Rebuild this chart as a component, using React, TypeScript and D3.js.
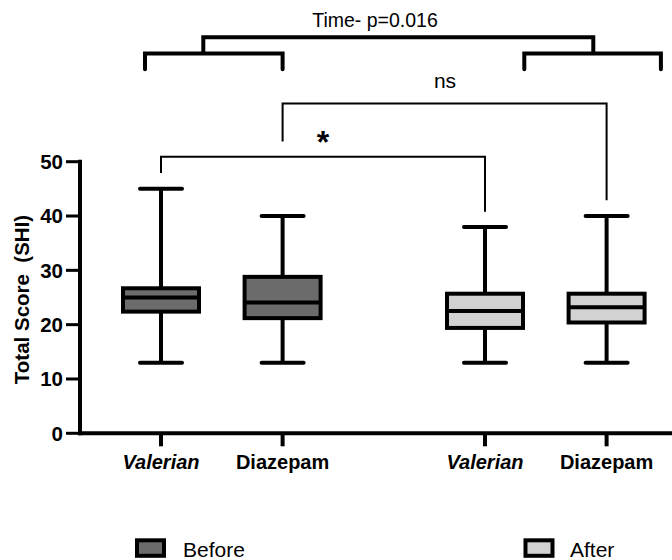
import React from "react";
import * as d3 from "d3";

const phases = ["Before", "After"];
const drugs = ["Valerian", "Diazepam"];
const phaseFill = ["#6b6b6b", "#d2d2d2"];
// [phase][drug] -> [min, q1, median, q3, max]
const statsBefore = [
  [13, 22.4, 25, 26.7, 45],
  [13, 21.2, 24.1, 28.8, 40],
];
const statsAfter = [
  [13, 19.4, 22.5, 25.7, 38],
  [13, 20.4, 23.2, 25.7, 40],
];
const yTicks = [0, 10, 20, 30, 40, 50];

const W = 672;
const H = 560;
const FONT = "'Liberation Sans', Arial, Helvetica, sans-serif";

export default function App() {
  const y = d3.scaleLinear().domain([0, 50]).range([433.3, 161.7]);
  const outer = d3.scalePoint<string>().domain(phases).range([221.8, 545.8]);
  const inner = d3.scalePoint<string>().domain(drugs).range([-60.8, 60.8]);
  const xOf = (p: string, d: string) => (outer(p) as number) + (inner(d) as number);
  const axisX = 80;
  const boxW = 76;
  const capW = 42;
  const sw = 4;

  const allStats = [statsBefore, statsAfter];

  const boxes = phases.flatMap((p, pi) =>
    drugs.map((d, di) => {
      const [mn, q1, md, q3, mx] = allStats[pi][di];
      const cx = xOf(p, d);
      return (
        <g key={p + d}>
          <line x1={cx} x2={cx} y1={y(mx)} y2={y(q3)} stroke="#000" strokeWidth={sw} />
          <line x1={cx} x2={cx} y1={y(q1)} y2={y(mn)} stroke="#000" strokeWidth={sw} />
          <line x1={cx - capW / 2} x2={cx + capW / 2} y1={y(mx)} y2={y(mx)} stroke="#000" strokeWidth={sw} strokeLinecap="round" />
          <line x1={cx - capW / 2} x2={cx + capW / 2} y1={y(mn)} y2={y(mn)} stroke="#000" strokeWidth={sw} strokeLinecap="round" />
          <rect x={cx - boxW / 2} y={y(q3)} width={boxW} height={y(q1) - y(q3)} fill={phaseFill[pi]} stroke="#000" strokeWidth={sw} />
          <line x1={cx - boxW / 2} x2={cx + boxW / 2} y1={y(md)} y2={y(md)} stroke="#000" strokeWidth={sw} />
        </g>
      );
    })
  );

  const xVB = xOf("Before", "Valerian");
  const xDB = xOf("Before", "Diazepam");
  const xVA = xOf("After", "Valerian");
  const xDA = xOf("After", "Diazepam");

  const path = (pts: [number, number][]) => d3.line()(pts) as string;

  const leftSubL = xVB - 16;
  const leftSubR = xDB;
  const rightSubL = xVA + 39.3;
  const rightSubR = xDA + 54.3;
  const leftDrop = xVB + 42.3;
  const rightDrop = xDA - 13.3;

  return (
    <svg width={W} height={H} style={{ position: "absolute", left: 0, top: 0 }} fontFamily={FONT}>
      <rect width={W} height={H} fill="#fff" />
      {/* y axis */}
      <line x1={axisX} x2={axisX} y1={y(50) - 2} y2={y(0) + 2} stroke="#000" strokeWidth={4} />
      {yTicks.map((t) => (
        <g key={t}>
          <line x1={axisX - 14} x2={axisX} y1={y(t)} y2={y(t)} stroke="#000" strokeWidth={3} />
          <text x={axisX - 17} y={y(t)} dy="0.36em" textAnchor="end" fontSize={20.5} fontWeight="bold">{t}</text>
        </g>
      ))}
      <text
        transform={`translate(29,${(y(0) + y(50)) / 2 + 2}) rotate(-90)`}
        textAnchor="middle"
        fontSize={20.5}
        fontWeight="bold"
        style={{ whiteSpace: "pre" }}
      >
        {"Total Score  (SHI)"}
      </text>
      {/* x axis */}
      <line x1={axisX - 2} x2={W + 4} y1={y(0)} y2={y(0)} stroke="#000" strokeWidth={4} />
      {phases.flatMap((p) =>
        drugs.map((d) => (
          <g key={"t" + p + d}>
            <line x1={xOf(p, d)} x2={xOf(p, d)} y1={y(0)} y2={y(0) + 13} stroke="#000" strokeWidth={4} />
            <text x={xOf(p, d)} y={468.5} textAnchor="middle" fontSize={20} fontWeight="bold" fontStyle={d === "Valerian" ? "italic" : "normal"}>{d}</text>
          </g>
        ))
      )}
      {boxes}
      {/* * bracket */}
      <path d={path([[xVB, y(47.9)], [xVB, y(50.9)], [xVA, y(50.9)], [xVA, y(40.8)]])} fill="none" stroke="#000" strokeWidth={2} />
      <text x={323} y={153} textAnchor="middle" fontSize={32} fontWeight="bold">*</text>
      {/* ns bracket */}
      <path d={path([[xDB, y(53.7)], [xDB, y(60.7)], [xDA, y(60.7)], [xDA, y(42.9)]])} fill="none" stroke="#000" strokeWidth={2} />
      <text x={445} y={88} textAnchor="middle" fontSize={21}>ns</text>
      {/* time brackets */}
      <path d={path([[leftSubL, y(67.0)], [leftSubL, y(69.9)], [leftSubR, y(69.9)], [leftSubR, y(67.0)]])} fill="none" stroke="#000" strokeWidth={4} strokeLinecap="round" />
      <path d={path([[rightSubL, y(67.0)], [rightSubL, y(69.9)], [rightSubR, y(69.9)], [rightSubR, y(67.0)]])} fill="none" stroke="#000" strokeWidth={4} strokeLinecap="round" />
      <path d={path([[leftDrop, y(69.9)], [leftDrop, y(72.9)], [rightDrop, y(72.9)], [rightDrop, y(69.9)]])} fill="none" stroke="#000" strokeWidth={4} />
      <text x={375} y={26.5} textAnchor="middle" fontSize={19.5}>Time- p=0.016</text>
      {/* legend */}
      {phases.map((p, i) => {
        const lx = i === 0 ? 137 : 525.5;
        return (
          <g key={"lg" + p}>
            <rect x={lx} y={540.3} width={27} height={15.5} fill={phaseFill[i]} stroke="#000" strokeWidth={4} />
            <text x={lx + (i === 0 ? 46 : 44.5)} y={556.5} fontSize={21}>{p}</text>
          </g>
        );
      })}
    </svg>
  );
}
